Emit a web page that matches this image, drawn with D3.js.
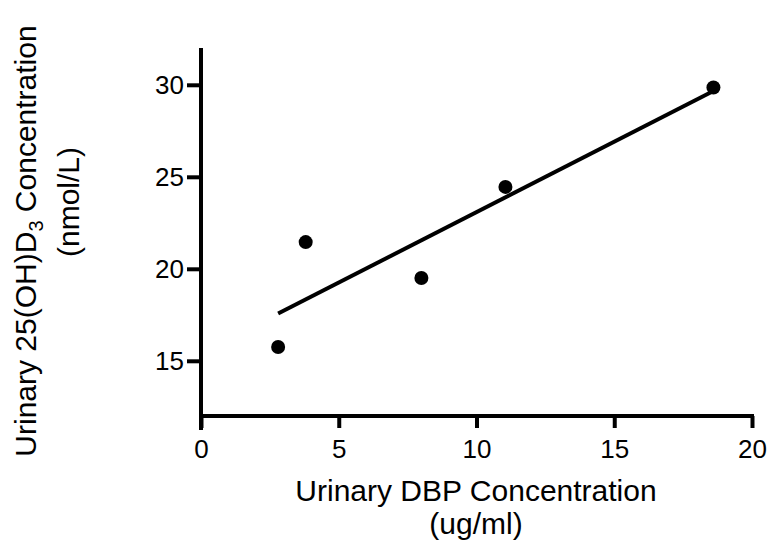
<!DOCTYPE html>
<html lang="en">
<head>
<meta charset="UTF-8">
<title>Urinary DBP vs 25(OH)D3</title>
<script src="https://d3js.org/d3.v7.min.js"></script>
<style>
  body { margin: 0; background: #fff; }
  text { font-family: "Liberation Sans", Arial, sans-serif; fill: #000; }
</style>
</head>
<body>
<div id="chart"></div>
<script>
    // values
    var dbp = [2.8, 3.8, 8.0, 11.05, 18.6];
    var vitD = [15.75, 21.45, 19.5, 24.45, 29.85];
    var xTicks = [0, 5, 10, 15, 20];
    var yTicks = [15, 20, 25, 30];

    var w = 772, h = 540;

    var svg = d3.select("#chart")
                .append("svg")
                .attr("width", w)
                .attr("height", h);

    var x = d3.scaleLinear().domain([0, 20]).range([201, 752]);
    var y = d3.scaleLinear().domain([12, 32]).range([416, 48]);

    var xAxis = d3.axisBottom(x).tickValues(xTicks).tickSizeOuter(0).tickSize(12).tickPadding(12);
    var yAxis = d3.axisLeft(y).tickValues(yTicks).tickSizeOuter(0).tickSize(14).tickPadding(3);

    var gx = svg.append("g").attr("transform", "translate(0,416)").call(xAxis);
    var gy = svg.append("g").attr("transform", "translate(201,0)").call(yAxis);

    [gx, gy].forEach(function(g) {
        g.selectAll("path, line").attr("stroke", "#000").attr("stroke-width", 4);
        g.selectAll("text").attr("font-size", 26).attr("fill", "#000")
         .attr("font-family", "'Liberation Sans', Arial, sans-serif");
    });
    gx.select(".domain").attr("d", "M199,0H754");
    gy.select(".domain").attr("d", "M0,48V430");

    // linear regression
    var mx = d3.mean(dbp), my = d3.mean(vitD);
    var sxy = d3.sum(dbp, function(d, i) { return (d - mx) * (vitD[i] - my); });
    var sxx = d3.sum(dbp, function(d) { return (d - mx) * (d - mx); });
    var slope = sxy / sxx, icpt = my - slope * mx;
    var ext = d3.extent(dbp);

    svg.append("path")
       .datum(ext)
       .attr("fill", "none")
       .attr("stroke", "#000")
       .attr("stroke-width", 4)
       .attr("d", d3.line()
          .x(function(d) { return x(d); })
          .y(function(d) { return y(icpt + slope * d); }));

    svg.selectAll("circle")
       .data(dbp)
       .enter()
       .append("circle")
       .attr("cx", function(d) { return x(d); })
       .attr("cy", function(d, i) { return y(vitD[i]); })
       .attr("r", 7)
       .attr("fill", "#000");

    // axis titles
    svg.append("text").attr("x", 476).attr("y", 501).attr("text-anchor", "middle")
       .attr("font-size", 30).text("Urinary DBP Concentration");
    svg.append("text").attr("x", 476).attr("y", 534).attr("text-anchor", "middle")
       .attr("font-size", 30).text("(ug/ml)");

    var yt = svg.append("text").attr("text-anchor", "middle").attr("font-size", 30)
       .attr("transform", "translate(36,241) rotate(-90)");
    yt.append("tspan").text("Urinary 25(OH)D");
    yt.append("tspan").attr("font-size", 20).attr("dy", 7).text("3");
    yt.append("tspan").attr("dy", -7).text(" Concentration");
    svg.append("text").attr("text-anchor", "middle").attr("font-size", 30)
       .attr("transform", "translate(79,202) rotate(-90)").text("(nmol/L)");
</script>
</body>
</html>
